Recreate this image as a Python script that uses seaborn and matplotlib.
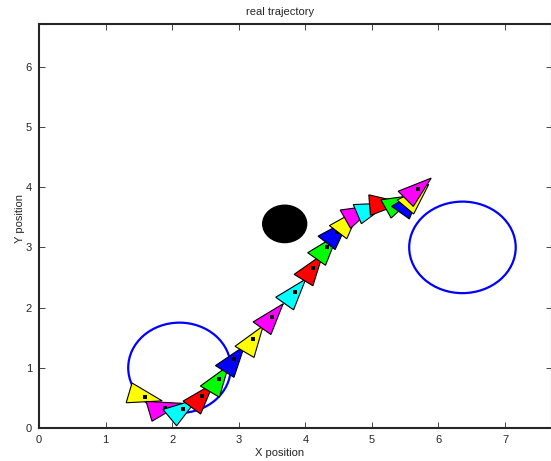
import numpy as np
import pandas as pd
import seaborn as sns
import matplotlib.pyplot as plt
from matplotlib.patches import Ellipse


# Robot poses along the trajectory: position and heading (degrees)
pose_x = [1.59, 1.89, 2.16, 2.45, 2.70, 2.93, 3.22, 3.50, 3.84, 4.11,
          4.32, 4.48, 4.65, 4.82, 5.01, 5.21, 5.43, 5.58, 5.67, 5.69]
pose_y = [0.52, 0.34, 0.32, 0.53, 0.81, 1.14, 1.47, 1.85, 2.26, 2.66,
          3.00, 3.26, 3.44, 3.58, 3.64, 3.72, 3.75, 3.77, 3.85, 3.97]
pose_heading = [-15, 15, 37, 51, 57, 55, 57, 52, 52, 56,
                52, 49, 50, 27, 21, 4, 27, 52, 47, 42]
pose_colors = ['yellow', 'magenta', 'cyan', 'red', 'lime', 'blue']

# Start / goal circles and the obstacle
circle_x = [2.11, 6.36]
circle_y = [1.00, 3.00]
circle_rx = [0.77, 0.80]
circle_ry = [0.75, 0.76]
obstacle_xy = (3.69, 3.39)
obstacle_r = (0.33, 0.31)

x_ticks = list(range(0, 8))
y_ticks = list(range(0, 7))

# Robot triangle in its own frame (tip forward)
TIP, BACK, HALF_W = 0.27, 0.245, 0.17


def _triangle(x, y, deg):
    t = np.radians(deg)
    rot = np.array([[np.cos(t), -np.sin(t)], [np.sin(t), np.cos(t)]])
    local = np.array([[TIP, 0.0], [-BACK, HALF_W], [-BACK, -HALF_W]])
    return local @ rot.T + np.array([x, y])


sns.set_style("ticks")
plt.rcParams['font.family'] = ['Liberation Sans', 'DejaVu Sans']
plt.rcParams['font.size'] = 8

df = pd.DataFrame({'x': pose_x, 'y': pose_y, 'heading': pose_heading})

fig = plt.figure(figsize=(5.51, 4.61), dpi=100)
ax = fig.add_axes([39 / 551, 33 / 461, 513 / 551, 404 / 461])

# path line (mostly hidden under the robots)
sns.lineplot(data=df, x='x', y='y', sort=False, color='blue', lw=0.6, ax=ax, zorder=1)

for cx, cy, rx, ry in zip(circle_x, circle_y, circle_rx, circle_ry):
    ax.add_patch(Ellipse((cx, cy), 2 * rx, 2 * ry, fill=False, edgecolor='blue', lw=1.6, zorder=1))

ax.add_patch(Ellipse(obstacle_xy, 2 * obstacle_r[0], 2 * obstacle_r[1],
                     facecolor='black', edgecolor='black', zorder=1))

# robots, each drawn on top of the previous one
for i, row in df.iterrows():
    tri = _triangle(row.x, row.y, row.heading)
    ax.fill(tri[:, 0], tri[:, 1], facecolor=pose_colors[i % len(pose_colors)],
            edgecolor='black', lw=0.8, zorder=2 + 2 * i)
    sns.scatterplot(x=[row.x], y=[row.y], color='black', marker='s', s=8,
                    linewidth=0, ax=ax, zorder=3 + 2 * i)

ax.set_xlim(0, 7.705)
ax.set_ylim(0, 6.71)
ax.set_xticks(x_ticks)
ax.set_yticks(y_ticks)
ax.tick_params(direction='in', top=True, right=True, length=4, width=0.6, pad=5, labelsize=8)
for sp in ax.spines.values():
    sp.set_linewidth(1.5)
    sp.set_visible(True)

ax.set_xlabel('X position', fontsize=8, va='top')
ax.xaxis.set_label_coords((280 - 39) / 513, -(448 - 428) / 404)
ax.set_ylabel('Y position', fontsize=8)
ax.yaxis.set_label_coords((25 - 39) / 513, (428 - 218) / 404)
fig.text(280 / 551, 1 - 12 / 461, 'real trajectory', ha='center', va='center', fontsize=8)

fig.savefig('out.png', dpi=100)
